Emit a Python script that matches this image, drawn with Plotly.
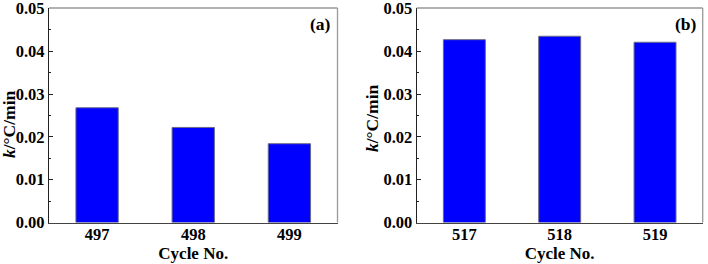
import plotly.graph_objects as go

cycles_a = ["497", "498", "499"]
k_a = [0.0268, 0.0222, 0.0184]
cycles_b = ["517", "518", "519"]
k_b = [0.0427, 0.0435, 0.0421]
y_ticks = [0.00, 0.01, 0.02, 0.03, 0.04, 0.05]
panel_labels = ["(a)", "(b)"]
y_title = "<i>k</i>/°C/min"
x_title = "Cycle No."

FONT = "Liberation Serif"
BLUE = "#0000FF"

fig = go.Figure()
fig.add_trace(go.Bar(x=cycles_a, y=k_a, xaxis="x", yaxis="y", width=0.44,
                     marker=dict(color=BLUE, line=dict(color="#6a6a8a", width=1))))
fig.add_trace(go.Bar(x=cycles_b, y=k_b, xaxis="x2", yaxis="y2", width=0.44,
                     marker=dict(color=BLUE, line=dict(color="#6a6a8a", width=1))))

ydom = [1 - 222.5 / 264, 1 - 8 / 264]
xdom1 = [49 / 708, 337.5 / 708]
xdom2 = [416.7 / 708, 702.7 / 708]

tickfont = dict(family=FONT, size=16.5, color="#000", weight="bold")
titlefont = dict(family=FONT, size=17.5, color="#000", weight="bold")

def xax(dom, anchor):
    return dict(domain=dom, anchor=anchor, type="category", range=[-0.5, 2.5],
                showline=True, linecolor="#444", linewidth=1.3, ticks="",
                ticklabelstandoff=-3, ticklabeloverflow="allow",
                tickfont=tickfont, showgrid=False, zeroline=False, automargin=False,
                title=dict(text=x_title, font=dict(family=FONT, size=17, color="#000", weight="bold"),
                           standoff=2))

def yax(anchor):
    return dict(domain=ydom, anchor=anchor, range=[0, 0.0501],
                tickvals=y_ticks, tickformat=".2f", ticks="inside", ticklen=4,
                tickwidth=1.2, tickcolor="#222", ticklabeloverflow="allow",
                minor=dict(dtick=0.005, ticks="inside", ticklen=2, tickcolor="#222", tickwidth=1),
                showline=True, linecolor="#222", linewidth=1.3,
                tickfont=tickfont, showgrid=False, zeroline=False, automargin=False)

fig.update_layout(
    width=708, height=264,
    margin=dict(l=0, r=0, t=0, b=0, autoexpand=False),
    paper_bgcolor="white", plot_bgcolor="white",
    showlegend=False,
    xaxis=xax(xdom1, "y"), yaxis=yax("x"),
    xaxis2=xax(xdom2, "y2"), yaxis2=yax("x2"),
)

# top and right frame lines (gray)
for xr, yr in [("x domain", "y domain"), ("x2 domain", "y2 domain")]:
    fig.add_shape(type="line", xref=xr, yref=yr, x0=0, x1=1, y0=1, y1=1,
                  line=dict(color="#999", width=1.3))
    fig.add_shape(type="line", xref=xr, yref=yr, x0=1, x1=1, y0=0, y1=1,
                  line=dict(color="#999", width=1.3))

for lab, xr, yr in [(panel_labels[0], "x domain", "y domain"), (panel_labels[1], "x2 domain", "y2 domain")]:
    fig.add_annotation(text=lab, xref=xr, yref=yr, x=0.94, y=0.925, showarrow=False,
                       xanchor="center", yanchor="middle",
                       font=dict(family=FONT, size=17.5, color="#000", weight="bold"))

# y-axis titles
for xpix, ypix in [(9, 124), (372, 118)]:
    fig.add_annotation(text=y_title, xref="paper", yref="paper", x=xpix / 708, y=1 - ypix / 264,
                       showarrow=False, textangle=-90, xanchor="center", yanchor="middle",
                       font=titlefont)

fig.write_html("out.html", config={"displayModeBar": False},
               post_script="document.body.style.margin='0';document.body.style.overflow='hidden';")
